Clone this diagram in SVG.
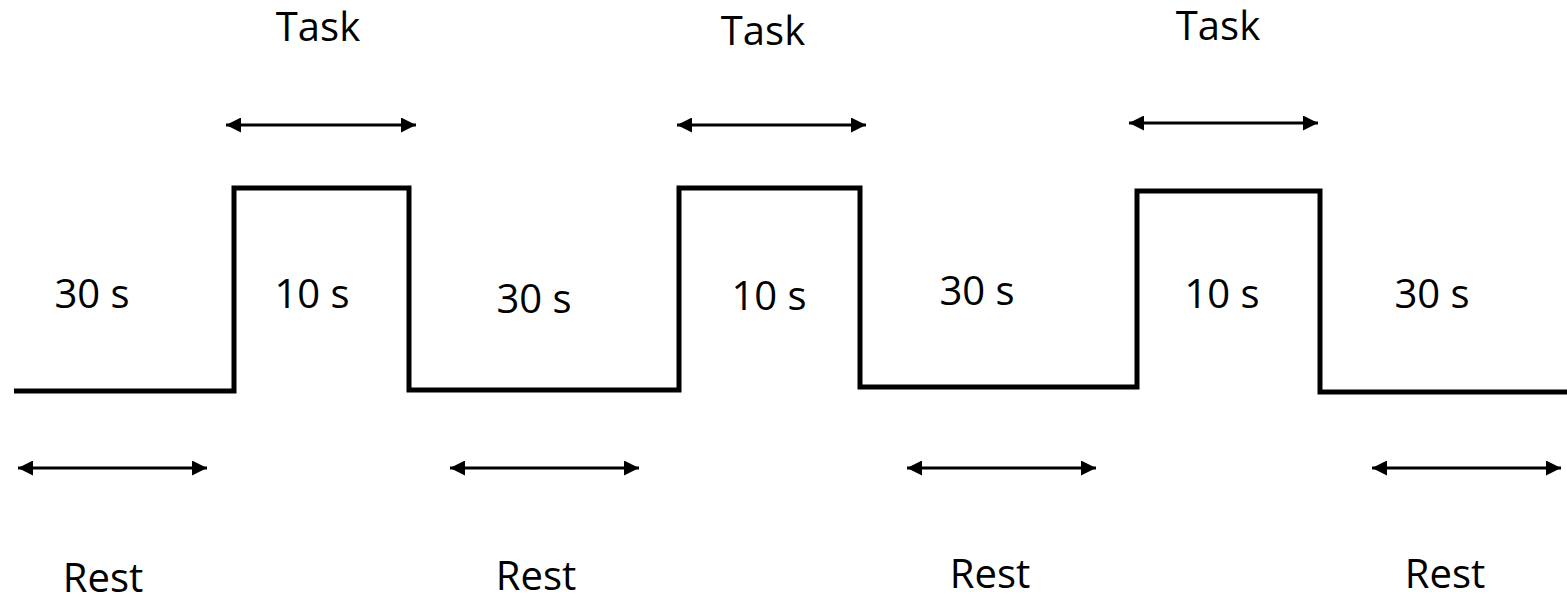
<svg xmlns="http://www.w3.org/2000/svg" width="1567" height="601" viewBox="0 0 1567 601">
  <style>
    .wave { fill: none; stroke: #000; stroke-width: 5; stroke-linejoin: miter; }
    .span { stroke: #000; stroke-width: 3; marker-start: url(#head); marker-end: url(#head); }
    .lbl { font-family: "Open Sans", "Liberation Sans", sans-serif; font-size: 40px; fill: #000; text-anchor: middle; }
  </style>
  <defs>
    <marker id="head" viewBox="0 0 10 10" refX="10" refY="5" markerWidth="5" markerHeight="5" markerUnits="strokeWidth" orient="auto-start-reverse">
      <path d="M0,0 L10,5 L0,10 Z" fill="#000"/>
    </marker>
  </defs>

  <!-- block-design time course -->
  <g id="timecourse">
    <path class="wave" d="M14,391 H234 V188 H409 V390 H679 V188 H860 V387 H1137 V191 H1320 V392 H1567"/>
  </g>

  <!-- duration spans -->
  <g id="connectors">
    <line class="span" x1="18" y1="468" x2="207" y2="468"/>
    <line class="span" x1="450" y1="468" x2="639" y2="468"/>
    <line class="span" x1="907" y1="468" x2="1096" y2="468"/>
    <line class="span" x1="1372" y1="468" x2="1561" y2="468"/>
    <line class="span" x1="226" y1="125" x2="416" y2="125"/>
    <line class="span" x1="677" y1="125" x2="866" y2="125"/>
    <line class="span" x1="1129" y1="123" x2="1318" y2="123"/>
  </g>

  <g id="task-labels">
    <text class="lbl" x="318" y="41">Task</text>
    <text class="lbl" x="763" y="45">Task</text>
    <text class="lbl" x="1218" y="40">Task</text>
  </g>

  <g id="duration-labels">
    <text class="lbl" x="92" y="308">30 s</text>
    <text class="lbl" x="312" y="308">10 s</text>
    <text class="lbl" x="534" y="313">30 s</text>
    <text class="lbl" x="769" y="310">10 s</text>
    <text class="lbl" x="977" y="305">30 s</text>
    <text class="lbl" x="1222" y="308">10 s</text>
    <text class="lbl" x="1432" y="308">30 s</text>
  </g>

  <g id="rest-labels">
    <text class="lbl" x="103" y="592">Rest</text>
    <text class="lbl" x="536" y="590">Rest</text>
    <text class="lbl" x="990" y="588">Rest</text>
    <text class="lbl" x="1445" y="588">Rest</text>
  </g>
</svg>
